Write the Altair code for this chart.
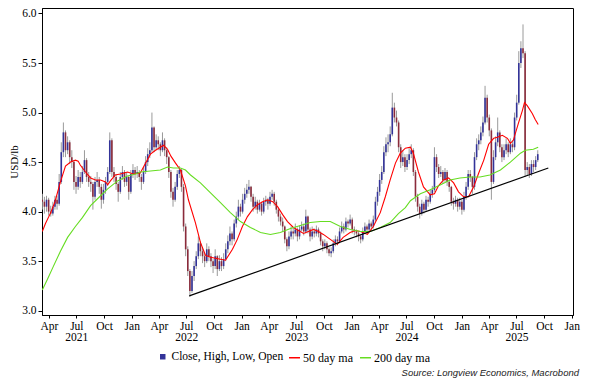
import altair as alt
import pandas as pd

# ---------------- data (weekly OHLC, USD/lb) ----------------
first_week = "2021-03-10"
opens = [
    4.12, 4.10, 4.05, 4.12, 4.00, 3.98, 4.05, 4.12, 4.08, 4.30,
    4.60, 4.80, 4.62, 4.70, 4.55, 4.50, 4.30, 4.25, 4.35, 4.30,
    4.40, 4.52, 4.35, 4.30, 4.28, 4.15, 4.30, 4.32, 4.25, 4.12,
    4.22, 4.30, 4.40, 4.72, 4.40, 4.35, 4.28, 4.20, 4.35, 4.40,
    4.30, 4.35, 4.20, 4.38, 4.42, 4.38, 4.40, 4.35, 4.30, 4.40,
    4.50, 4.58, 4.62, 4.85, 4.65, 4.72, 4.68, 4.62, 4.72, 4.62,
    4.55, 4.40, 4.20, 4.12, 4.25, 4.38, 4.42, 4.25, 3.85, 3.62,
    3.40, 3.20, 3.35, 3.45, 3.55, 3.68, 3.60, 3.55, 3.50, 3.62,
    3.55, 3.50, 3.45, 3.55, 3.42, 3.50, 3.45, 3.52, 3.62, 3.70,
    3.78, 3.72, 3.88, 3.95, 4.05, 4.00, 4.12, 4.18, 4.22, 4.25,
    4.15, 4.05, 4.10, 4.02, 4.08, 4.00, 4.10, 4.12, 4.08, 4.15,
    4.18, 4.10, 4.02, 3.95, 3.90, 3.85, 3.72, 3.65, 3.75, 3.80,
    3.78, 3.82, 3.75, 3.82, 3.85, 3.80, 3.95, 3.82, 3.75, 3.80,
    3.78, 3.82, 3.78, 3.70, 3.65, 3.68, 3.62, 3.58, 3.60, 3.68,
    3.72, 3.70, 3.80, 3.85, 3.82, 3.90, 3.88, 3.92, 3.82, 3.80,
    3.78, 3.75, 3.72, 3.80, 3.85, 3.82, 3.88, 3.85, 3.92, 4.10,
    4.20, 4.32, 4.40, 4.60, 4.68, 4.70, 4.78, 5.05, 4.95, 4.90,
    4.65, 4.50, 4.55, 4.45, 4.52, 4.58, 4.62, 4.40, 4.15, 4.05,
    3.98, 4.08, 4.02, 4.12, 4.10, 4.18, 4.22, 4.55, 4.45, 4.38,
    4.40, 4.32, 4.40, 4.30, 4.25, 4.10, 4.08, 4.12, 4.05, 4.10,
    4.02, 4.15, 4.25, 4.38, 4.35, 4.25, 4.55, 4.68, 4.72, 4.80,
    4.90, 5.15, 4.95, 4.82, 4.30, 4.55, 4.70, 4.80, 4.65, 4.55,
    4.62, 4.68, 4.60, 4.68, 4.65, 4.95, 5.10, 5.50, 5.65, 5.60,
    4.42, 4.45, 4.38, 4.48, 4.45, 4.52,
]
highs = [
    4.18, 4.15, 4.16, 4.14, 4.06, 4.10, 4.16, 4.16, 4.38, 4.70,
    4.90, 4.82, 4.76, 4.72, 4.62, 4.52, 4.36, 4.42, 4.40, 4.46,
    4.62, 4.54, 4.40, 4.36, 4.30, 4.35, 4.40, 4.35, 4.28, 4.28,
    4.35, 4.45, 4.80, 4.74, 4.45, 4.38, 4.30, 4.40, 4.46, 4.42,
    4.40, 4.36, 4.42, 4.48, 4.45, 4.46, 4.42, 4.38, 4.45, 4.56,
    4.64, 4.70, 5.00, 4.86, 4.78, 4.76, 4.70, 4.80, 4.74, 4.65,
    4.56, 4.42, 4.24, 4.30, 4.42, 4.46, 4.44, 4.28, 3.88, 3.65,
    3.42, 3.40, 3.50, 3.60, 3.75, 3.70, 3.64, 3.58, 3.68, 3.65,
    3.58, 3.52, 3.62, 3.56, 3.56, 3.54, 3.58, 3.68, 3.76, 3.85,
    3.80, 3.92, 4.00, 4.12, 4.08, 4.18, 4.24, 4.28, 4.32, 4.26,
    4.18, 4.15, 4.12, 4.12, 4.10, 4.14, 4.16, 4.14, 4.20, 4.22,
    4.20, 4.12, 4.04, 3.98, 3.94, 3.86, 3.74, 3.80, 3.85, 3.84,
    3.88, 3.84, 3.86, 3.90, 3.88, 4.02, 3.96, 3.84, 3.85, 3.83,
    3.86, 3.84, 3.80, 3.72, 3.72, 3.70, 3.64, 3.64, 3.72, 3.76,
    3.75, 3.84, 3.90, 3.88, 3.94, 3.92, 3.97, 3.94, 3.85, 3.82,
    3.80, 3.77, 3.84, 3.89, 3.87, 3.92, 3.90, 3.96, 4.15, 4.25,
    4.38, 4.46, 4.66, 4.75, 4.78, 4.86, 5.20, 5.10, 5.02, 4.92,
    4.68, 4.62, 4.58, 4.58, 4.64, 4.68, 4.64, 4.42, 4.18, 4.08,
    4.12, 4.10, 4.16, 4.15, 4.22, 4.26, 4.65, 4.58, 4.48, 4.46,
    4.42, 4.44, 4.42, 4.32, 4.26, 4.14, 4.16, 4.14, 4.14, 4.12,
    4.20, 4.30, 4.42, 4.42, 4.36, 4.60, 4.74, 4.78, 4.86, 4.96,
    5.27, 5.18, 4.98, 4.84, 4.62, 4.76, 4.95, 4.82, 4.68, 4.68,
    4.74, 4.70, 4.74, 4.72, 5.00, 5.18, 5.62, 5.72, 5.89, 5.62,
    4.50, 4.48, 4.52, 4.52, 4.56, 4.62,
]
lows = [
    4.02, 3.98, 4.00, 3.96, 3.95, 3.96, 4.02, 4.02, 4.06, 4.28,
    4.55, 4.55, 4.58, 4.48, 4.44, 4.22, 4.18, 4.22, 4.24, 4.28,
    4.38, 4.30, 4.25, 4.20, 4.02, 4.12, 4.25, 4.18, 4.03, 4.08,
    4.18, 4.26, 4.38, 4.35, 4.30, 4.22, 4.10, 4.18, 4.32, 4.25,
    4.26, 4.12, 4.18, 4.34, 4.32, 4.34, 4.30, 4.22, 4.28, 4.38,
    4.46, 4.54, 4.60, 4.60, 4.62, 4.62, 4.56, 4.60, 4.56, 4.48,
    4.34, 4.14, 4.05, 4.10, 4.22, 4.34, 4.20, 3.80, 3.55, 3.35,
    3.14, 3.18, 3.30, 3.42, 3.52, 3.55, 3.48, 3.44, 3.48, 3.50,
    3.44, 3.38, 3.42, 3.35, 3.40, 3.40, 3.42, 3.50, 3.58, 3.66,
    3.66, 3.70, 3.84, 3.92, 3.95, 3.98, 4.08, 4.14, 4.18, 4.10,
    4.00, 4.02, 3.98, 4.00, 3.96, 3.98, 4.06, 4.02, 4.06, 4.12,
    4.06, 3.98, 3.90, 3.86, 3.80, 3.68, 3.60, 3.62, 3.72, 3.72,
    3.75, 3.70, 3.72, 3.80, 3.76, 3.78, 3.78, 3.70, 3.72, 3.74,
    3.75, 3.74, 3.66, 3.60, 3.62, 3.58, 3.55, 3.54, 3.58, 3.65,
    3.66, 3.68, 3.78, 3.78, 3.80, 3.84, 3.86, 3.78, 3.76, 3.74,
    3.70, 3.68, 3.70, 3.78, 3.78, 3.80, 3.82, 3.83, 3.90, 4.06,
    4.16, 4.28, 4.38, 4.56, 4.60, 4.66, 4.76, 4.90, 4.86, 4.60,
    4.44, 4.46, 4.40, 4.42, 4.48, 4.54, 4.36, 4.10, 4.00, 3.93,
    3.96, 3.98, 4.00, 4.05, 4.08, 4.14, 4.20, 4.40, 4.34, 4.35,
    4.28, 4.30, 4.26, 4.20, 4.06, 4.02, 4.05, 4.00, 4.02, 3.97,
    4.00, 4.12, 4.22, 4.30, 4.18, 4.22, 4.52, 4.62, 4.68, 4.76,
    4.88, 4.90, 4.76, 4.12, 4.28, 4.52, 4.66, 4.60, 4.50, 4.52,
    4.58, 4.55, 4.58, 4.60, 4.62, 4.92, 5.08, 5.45, 5.55, 4.35,
    4.36, 4.34, 4.36, 4.40, 4.42, 4.50,
]
closes = [
    4.10, 4.05, 4.12, 4.00, 3.98, 4.05, 4.12, 4.08, 4.30, 4.60,
    4.80, 4.62, 4.70, 4.55, 4.50, 4.30, 4.25, 4.35, 4.30, 4.40,
    4.52, 4.35, 4.30, 4.28, 4.15, 4.30, 4.32, 4.25, 4.12, 4.22,
    4.30, 4.40, 4.72, 4.40, 4.35, 4.28, 4.20, 4.35, 4.40, 4.30,
    4.35, 4.20, 4.38, 4.42, 4.38, 4.40, 4.35, 4.30, 4.40, 4.50,
    4.58, 4.62, 4.85, 4.65, 4.72, 4.68, 4.62, 4.72, 4.62, 4.55,
    4.40, 4.20, 4.12, 4.25, 4.38, 4.42, 4.25, 3.85, 3.62, 3.40,
    3.20, 3.35, 3.45, 3.55, 3.68, 3.60, 3.55, 3.50, 3.62, 3.55,
    3.50, 3.45, 3.55, 3.42, 3.50, 3.45, 3.52, 3.62, 3.70, 3.78,
    3.72, 3.88, 3.95, 4.05, 4.00, 4.12, 4.18, 4.22, 4.25, 4.15,
    4.05, 4.10, 4.02, 4.08, 4.00, 4.10, 4.12, 4.08, 4.15, 4.18,
    4.10, 4.02, 3.95, 3.90, 3.85, 3.72, 3.65, 3.75, 3.80, 3.78,
    3.82, 3.75, 3.82, 3.85, 3.80, 3.95, 3.82, 3.75, 3.80, 3.78,
    3.82, 3.78, 3.70, 3.65, 3.68, 3.62, 3.58, 3.60, 3.68, 3.72,
    3.70, 3.80, 3.85, 3.82, 3.90, 3.88, 3.92, 3.82, 3.80, 3.78,
    3.75, 3.72, 3.80, 3.85, 3.82, 3.88, 3.85, 3.92, 4.10, 4.20,
    4.32, 4.40, 4.60, 4.68, 4.70, 4.78, 5.05, 4.95, 4.90, 4.65,
    4.50, 4.55, 4.45, 4.52, 4.58, 4.62, 4.40, 4.15, 4.05, 3.98,
    4.08, 4.02, 4.12, 4.10, 4.18, 4.22, 4.55, 4.45, 4.38, 4.40,
    4.32, 4.40, 4.30, 4.25, 4.10, 4.08, 4.12, 4.05, 4.10, 4.02,
    4.15, 4.25, 4.38, 4.35, 4.25, 4.55, 4.68, 4.72, 4.80, 4.90,
    5.15, 4.95, 4.82, 4.30, 4.55, 4.70, 4.80, 4.65, 4.55, 4.62,
    4.68, 4.60, 4.68, 4.65, 4.95, 5.10, 5.50, 5.65, 5.60, 4.42,
    4.45, 4.38, 4.48, 4.45, 4.52, 4.58,
]

# moving averages, positions in weeks after the first bar
ma50_week = [0, 1.5, 4, 6, 8.6, 11, 13.4, 15.7, 17, 18, 20.5, 22.9, 25.2, 27.6, 30,
             31, 32.3, 34.6, 37, 40.4, 43.2, 46.5, 49, 51.3, 53.7, 56, 57.5, 59.4, 61,
             63.2, 65.5, 67.9, 69.3, 72.6, 75, 77.4, 79.8, 82.1, 84.5, 86.9, 90.2, 92.5,
             94.9, 97.3, 99.7, 102.1, 104.5, 106.9, 109.3, 111.6, 114, 116.3, 119.1,
             121.5, 123.9, 126.2, 128.6, 131, 133.3, 136.6, 139.9, 142.7, 146, 148.4,
             150.9, 154.2, 157, 160.3, 162.7, 165, 167.5, 169.8, 172.2, 174.6, 176,
             178.4, 180.8, 184, 186, 187.9, 190.3, 192.7, 195.1, 197.4, 199.8, 202.2,
             204.6, 207, 209.4, 211.7, 214.1, 215.8, 218.2, 220.6, 222, 223.4, 225.8,
             227.7, 228.7, 230, 232.4, 233.8, 235.2]
ma50_val = [3.80, 3.88, 3.99, 4.10, 4.30, 4.46, 4.50, 4.52, 4.51, 4.47, 4.40, 4.34, 4.32,
            4.32, 4.30, 4.27, 4.31, 4.37, 4.38, 4.40, 4.38, 4.39, 4.49, 4.58, 4.62, 4.65,
            4.67, 4.63, 4.56, 4.49, 4.42, 4.26, 4.12, 3.89, 3.69, 3.56, 3.54, 3.53, 3.52,
            3.51, 3.62, 3.72, 3.85, 3.95, 4.02, 4.07, 4.10, 4.12, 4.10, 4.05, 3.97, 3.90,
            3.84, 3.81, 3.78, 3.80, 3.82, 3.80, 3.77, 3.72, 3.67, 3.74, 3.79, 3.81, 3.80,
            3.77, 3.85, 3.99, 4.15, 4.32, 4.49, 4.59, 4.64, 4.65, 4.59, 4.40, 4.25, 4.17,
            4.18, 4.26, 4.32, 4.34, 4.29, 4.20, 4.15, 4.15, 4.25, 4.39, 4.52, 4.68, 4.74,
            4.75, 4.77, 4.74, 4.69, 4.72, 4.89, 5.02, 5.10, 5.07, 4.99, 4.93, 4.88]
ma200_week = [0, 2.5, 5.3, 8.6, 12, 15.7, 19, 22.9, 26.2, 31, 35.7, 40.4, 44.2, 46.5,
              51.3, 56, 59.4, 62.2, 65.5, 67.9, 70.3, 75, 79.8, 84.5, 89.2, 94, 98.7,
              103.5, 108.2, 112.9, 117.7, 122.4, 127.1, 131.9, 136.6, 141.4, 146.2,
              150.9, 155.6, 160.3, 165, 168.9, 172.2, 174.6, 179.3, 184, 188.7, 193.4,
              198.1, 202.9, 207.6, 212.3, 217.3, 222, 226.8, 229.1, 232.9, 235.2]
ma200_val = [3.21, 3.32, 3.45, 3.60, 3.74, 3.85, 3.94, 4.06, 4.13, 4.23, 4.31, 4.36, 4.38,
             4.40, 4.41, 4.42, 4.45, 4.44, 4.44, 4.42, 4.37, 4.29, 4.19, 4.09, 3.99, 3.90,
             3.84, 3.79, 3.77, 3.79, 3.83, 3.86, 3.89, 3.90, 3.90, 3.85, 3.82, 3.80, 3.80,
             3.84, 3.89, 3.98, 4.04, 4.11, 4.18, 4.22, 4.27, 4.32, 4.34, 4.35, 4.35, 4.37,
             4.42, 4.50, 4.59, 4.62, 4.63, 4.65]
trend_week = [69.7, 240.0]
trend_val = [3.15, 4.44]

ohlc_name = "Close, High, Low, Open"
ma_names = ["50 day ma", "200 day ma"]
ohlc_color = "#333399"
ma_colors = ["#ff0000", "#66dd22"]
up_color, down_color, wick_color = "#333399", "#8b2b3b", "#9a9a9a"
y_ticks = [3.0, 3.5, 4.0, 4.5, 5.0, 5.5, 6.0]
tick_months = [(2021, 4), (2021, 7), (2021, 10)] + [
    (y, m) for y in (2022, 2023, 2024, 2025) for m in (1, 4, 7, 10)] + [(2026, 1)]
source_text = "Source: Longview Economics, Macrobond"

# ---------------- build tables ----------------
base = pd.Timestamp(first_week)


def iso(weeks):
    return [(base + pd.Timedelta(days=7 * w)).strftime("%Y-%m-%dT%H:%M:%SZ") for w in weeks]


ohlc = pd.DataFrame({"date": iso(range(len(closes))), "open": opens, "high": highs,
                     "low": lows, "close": closes})
ma = pd.concat([
    pd.DataFrame({"date": iso(ma50_week), "value": ma50_val, "series": ma_names[0]}),
    pd.DataFrame({"date": iso(ma200_week), "value": ma200_val, "series": ma_names[1]}),
])
trend = pd.DataFrame({"date": iso(trend_week), "value": trend_val})
key = pd.DataFrame({"date": iso([0]), "value": [4.0], "series": [ohlc_name]})
src = pd.DataFrame({"t": [source_text]})

FONT = "Liberation Serif"
x_scale = alt.Scale(type="utc", domain=[alt.DateTime(year=2021, month=3, date=9, utc=True),
                                        alt.DateTime(year=2026, month=1, date=5, utc=True)])
y_scale = alt.Scale(domain=[2.9566, 6.0555], nice=False, zero=False)
x_axis = alt.Axis(
    values=[alt.DateTime(year=y, month=m, date=1, utc=True) for y, m in tick_months],
    labelExpr="utcmonth(datum.value) == 6 ? [utcFormat(datum.value, '%b'), utcFormat(datum.value, '%Y')] : utcFormat(datum.value, '%b')",
    labelOverlap=False, labelFlush=False, tickSize=3, labelPadding=2, labelLineHeight=11,
    grid=False, title=None)
y_axis = alt.Axis(values=y_ticks, format=".1f", tickSize=4, labelPadding=2, grid=False,
                  title="USD/lb", titlePadding=2, titleFontSize=11)

X = alt.X("date:T", scale=x_scale, axis=x_axis)

wick = alt.Chart(ohlc).mark_rule(color=wick_color, strokeWidth=1, clip=True).encode(
    x=X, y=alt.Y("low:Q", scale=y_scale, axis=y_axis), y2="high:Q")
body = alt.Chart(ohlc).mark_rule(strokeWidth=1.6, clip=True).encode(
    x=X, y=alt.Y("open:Q", scale=y_scale, axis=y_axis), y2="close:Q",
    color=alt.condition("datum.close >= datum.open", alt.value(up_color), alt.value(down_color)))

# legend entry for the price bars (invisible point, visible legend symbol)
key_layer = alt.Chart(key).mark_point(filled=True, opacity=0, clip=True).encode(
    x=X, y=alt.Y("value:Q", scale=y_scale, axis=y_axis),
    fill=alt.Fill("series:N", scale=alt.Scale(domain=[ohlc_name], range=[ohlc_color]),
                  legend=alt.Legend(title=None, orient="none", legendX=115, legendY=343,
                                    symbolType="square", symbolSize=30, symbolOpacity=1,
                                    symbolStrokeWidth=0, labelFont=FONT, labelFontSize=11.5,
                                    labelColor="black", labelOffset=3)))

lines = alt.Chart(ma).mark_line(strokeWidth=1.1, clip=True).encode(
    x=X, y=alt.Y("value:Q", scale=y_scale, axis=y_axis),
    stroke=alt.Stroke("series:N", scale=alt.Scale(domain=ma_names, range=ma_colors),
                      legend=alt.Legend(title=None, orient="none", legendX=246, legendY=343,
                                        direction="horizontal", symbolType="stroke",
                                        symbolSize=120, symbolStrokeWidth=1.5,
                                        labelFont=FONT, labelFontSize=12,
                                        labelColor="black", labelOffset=2,
                                        columnPadding=4)),
    detail="series:N")

trend_line = alt.Chart(trend).mark_line(color="black", strokeWidth=1.2, clip=True).encode(
    x=X, y=alt.Y("value:Q", scale=y_scale, axis=y_axis))

source = alt.Chart(src).mark_text(font="Liberation Sans", fontStyle="italic", fontSize=9.5,
                                  align="right", baseline="middle", color="#222222").encode(
    text="t:N", x=alt.value(537), y=alt.value(365))

chart = alt.layer(wick, body, key_layer, lines, trend_line, source).properties(
    width=531, height=307,
    padding={"left": 34, "top": 0, "right": 8, "bottom": 64},
    autosize=alt.AutoSizeParams(type="none"),
    background="white",
).resolve_legend(fill="independent", stroke="independent").configure_view(
    stroke="black", strokeWidth=1).configure_axis(
    labelFont=FONT, labelFontSize=11.5, labelColor="black", titleFont=FONT, titleFontSize=11,
    titleFontWeight="normal", titleColor="black", domainColor="black", tickColor="black",
)

chart.save("out.html", embed_options={"renderer": "svg", "actions": False})
